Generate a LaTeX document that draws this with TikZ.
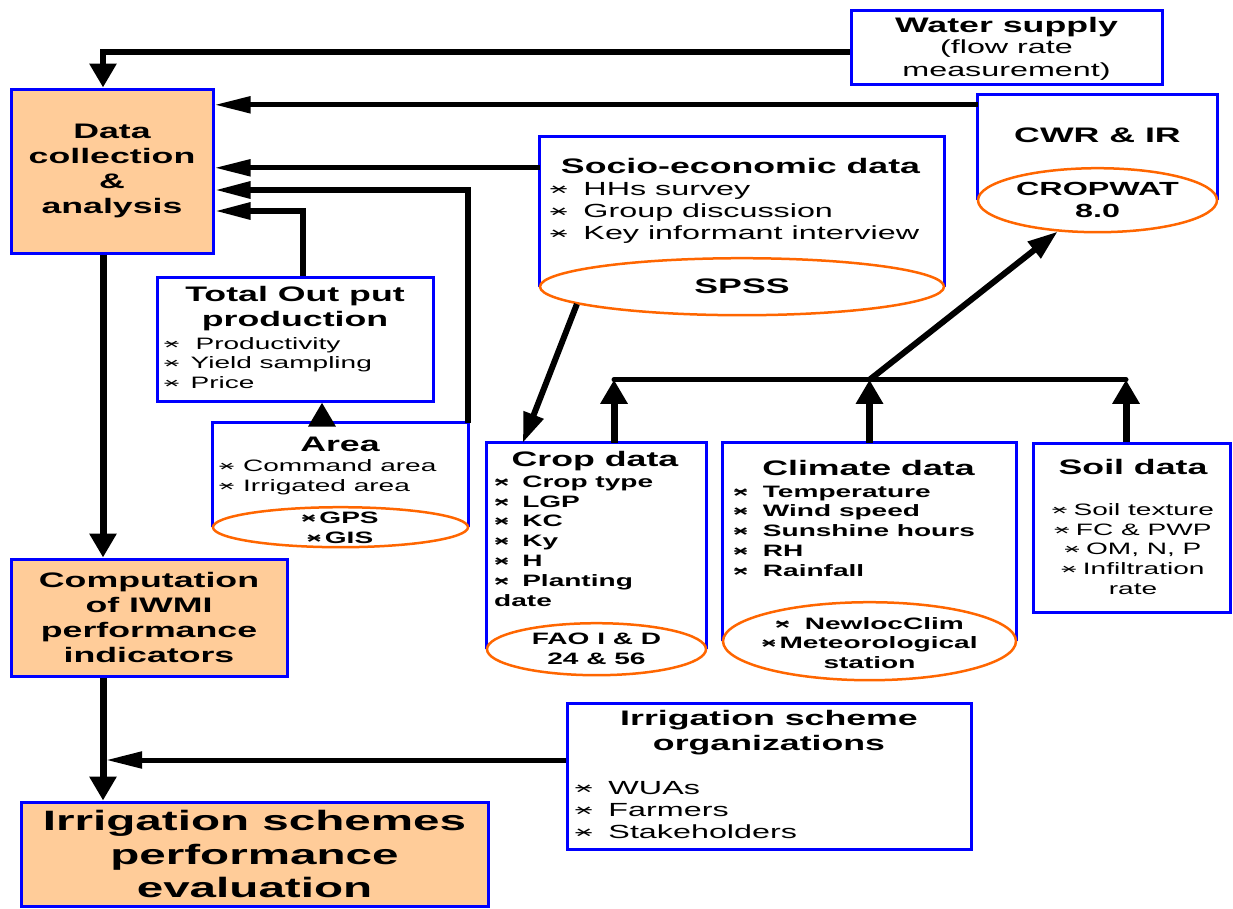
\documentclass[tikz,border=0pt]{standalone}
\usepackage{fontspec}
\setmainfont{Liberation Sans}[FakeStretch=1.7]
\usepackage{graphicx}
\usetikzlibrary{arrows.meta, shapes.geometric, calc}
\definecolor{irblue}{HTML}{0000FF}
\definecolor{irorange}{HTML}{FF6600}
\definecolor{irpeach}{HTML}{FFCC99}
\newcommand\ftbig{\fontsize{28}{33.5}\selectfont\bfseries}
\newcommand\fttitle{\fontsize{21}{25}\selectfont\bfseries}
\newcommand\ftmid{\fontsize{19}{22.3}\selectfont}
\newcommand\ftitem{\fontsize{16.5}{19.8}\selectfont}
\newcommand\xb[1][1.6em]{\makebox[#1][l]{\scalebox{0.9}{\rlap{\makebox[1em]{×}}\makebox[1em]{\raisebox{0.09em}{–}}}}}

\begin{document}
\begin{tikzpicture}[
  x=1pt, y=-1pt,
  pbox/.style={rectangle, draw=irblue, line width=3pt, fill=irpeach, inner sep=0pt, align=center},
  wbox/.style={rectangle, draw=irblue, line width=3pt, fill=white, inner sep=0pt},
  obox/.style={rectangle, inner sep=0pt},
  side/.style={draw=irblue, line width=3pt},
  tool/.style={ellipse, draw=irorange, line width=2.5pt, fill=white, inner sep=0pt},
  ttl/.style={inner sep=0pt, align=center, font=\fttitle},
  itm/.style={inner sep=0pt, align=left, anchor=west, font=\ftitem},
  sw/.style={inner sep=0pt, align=center, font=\ftitem\bfseries},
  harr/.style={line width=5pt, -{Triangle[length=36pt, width=16pt]}},
  varr/.style={line width=7pt, -{Triangle[length=24pt, width=26pt]}},
  darr/.style={line width=6pt, -{Triangle[length=30pt, width=20pt]}},
  link/.style={line width=5pt, line cap=round},
]
\useasboundingbox (0,0) rectangle (1233,908);

% Main steps
\node[pbox, minimum width=202pt, minimum height=164pt, font=\fttitle] (data) at (112,171) {Data\\collection\\\&\\analysis};
\node[pbox, minimum width=276pt, minimum height=117pt, font=\fttitle] (comp) at (149,617.5) {Computation\\of IWMI\\performance\\indicators};
\node[pbox, minimum width=467pt, minimum height=104pt, font=\ftbig] (eval) at (254.5,854) {Irrigation schemes\\performance\\evaluation};

% Data sources
\node[wbox, minimum width=311pt, minimum height=74pt] (water) at (1006.5,47) {};
\node[obox, minimum width=239pt, minimum height=105pt] (cwr) at (1097.5,147.5) {};
\node[obox, minimum width=404pt, minimum height=149.5pt] (socio) at (742,211.75) {};
\node[wbox, minimum width=276pt, minimum height=124pt] (total) at (295,339) {};
\node[obox, minimum width=255pt, minimum height=104pt] (area) at (340.5,475) {};
\node[obox, minimum width=219pt, minimum height=206pt] (crop) at (596.5,546) {};
\node[obox, minimum width=293pt, minimum height=198pt] (climate) at (869.5,542) {};
\node[wbox, minimum width=197pt, minimum height=169pt] (soil) at (1131.5,527.5) {};
\node[wbox, minimum width=404pt, minimum height=146pt] (org) at (769,776) {};

% Open boxes (tool ellipse closes the bottom)
\foreach \b in {cwr, socio, area, crop, climate}
  \draw[side] (\b.south west) -- (\b.north west) -- (\b.north east) -- (\b.south east);

% Tools
\node[tool, minimum width=239pt, minimum height=64pt] (cwrtool) at (cwr.south) {};
\node[tool, minimum width=404pt, minimum height=57pt] (spsstool) at (socio.south) {};
\node[tool, minimum width=255pt, minimum height=40pt] (areatool) at (area.south) {};
\node[tool, minimum width=219pt, minimum height=52pt] (croptool) at (crop.south) {};
\node[tool, minimum width=293pt, minimum height=78pt] (climtool) at (climate.south) {};

% Texts
\node[ttl] (waterttl) at (1006.5,27) {Water supply};
\node[inner sep=0pt, align=center, font=\ftmid] (watersub) at (1006.5,60) {(flow rate\\measurement)};

\node[ttl] (cwrttl) at (1097.5,135) {CWR \& IR};
\node[inner sep=0pt, align=center, font=\ftmid\bfseries] (cwrsw) at (cwrtool) {CROPWAT\\8.0};

\node[ttl] (sociottl) at (740.5,166) {Socio-economic data};
\node[itm, font=\ftmid] (socioitm) at (550,213) {\xb[1.75em]HHs survey\\\xb[1.75em]Group discussion\\\xb[1.75em]Key informant interview};
\node[ttl] (spssttl) at (spsstool) {SPSS};

\node[ttl] (totalttl) at (295,309) {Total Out put\\production};
\node[itm] (totalitm) at (164,363) {\xb[1.9em]Productivity\\\xb Yield sampling\\\xb Price};

\node[ttl] (areattl) at (340,444) {Area};
\node[itm] (areaitm) at (219,477) {\xb[1.45em]Command area\\\xb[1.45em]Irrigated area};
\node[sw] (areasw) at (340,528) {\xb[1.1em]GPS\\\xb[1.1em]GIS};

\node[ttl] (cropttl) at (595,461) {Crop data};
\node[itm, font=\ftitem\bfseries] (cropitm) at (494,541) {\xb[1.7em]Crop type\\\xb[1.7em]LGP\\\xb[1.7em]KC\\\xb[1.7em]Ky\\\xb[1.7em]H\\\xb[1.7em]Planting\\date};
\node[sw] (cropsw) at (596.5,649) {FAO I \& D\\24 \& 56};

\node[ttl] (climttl) at (868.5,468) {Climate data};
\node[itm, font=\ftitem\bfseries] (climitm) at (733,531) {\xb[1.8em]Temperature\\\xb[1.8em]Wind speed\\\xb[1.8em]Sunshine hours\\\xb[1.8em]RH\\\xb[1.8em]Rainfall};
\node[sw] (climsw) at (869.5,643) {\xb[1.8em]NewlocClim\\\xb[1.1em]Meteorological\\station};

\node[ttl] (soilttl) at (1133,467) {Soil data};
\node[inner sep=0pt, align=center, font=\ftitem] (soilitm) at (1133,549) {\xb[1.3em]Soil texture\\\xb[1.3em]FC \& PWP\\\xb[1.3em]OM, N, P\\\xb[1.3em]Infiltration\\rate};

\node[ttl] (orgttl) at (769,733) {Irrigation scheme\\organizations};
\node[itm, font=\ftmid] (orgitm) at (575,810) {\xb[1.75em]WUAs\\\xb[1.75em]Farmers\\\xb[1.75em]Stakeholders};

% Inputs to data collection
\coordinate (cwrin) at ([yshift=-10pt]cwr.north west);
\coordinate (socin) at ([yshift=-31pt]socio.north west);
\coordinate (areain) at ([yshift=-19pt]data.east);
\coordinate (totin) at ([yshift=-40pt]data.east);
\coordinate (areaup) at ([xshift=-18.5pt]area.north);
\draw[varr, line width=6pt] ([yshift=-5pt]water.west) -| ([xshift=-9pt]data.north);
\draw[harr] (cwrin) -- (cwrin -| data.east);
\draw[harr] (socin) -- (socin -| data.east);
\draw[harr, line width=6pt] (area.north east) |- (areain);
\draw[harr, line width=6pt] ([xshift=8pt]total.north) |- (totin);
\draw[varr] (areaup) -- (areaup |- total.south);

% Main flow
\coordinate (dout) at ([xshift=-9pt]data.south);
\coordinate (cout) at (dout |- comp.south);
\coordinate (orgout) at ([yshift=16pt]org.west);
\coordinate (orgin) at (orgout -| cout);
\draw[varr] (dout) -- (dout |- comp.north);
\draw[varr] (cout) -- (cout |- eval.north);
\draw[harr, shorten >=3pt] (orgout) -- (orgin);

% Crop, climate, soil to CROPWAT
\coordinate (cropup) at ([xshift=17.5pt]crop.north);
\coordinate (soilup) at ([xshift=-5.5pt]soil.north);
\coordinate (barL) at ([yshift=63pt]cropup);
\coordinate (barM) at (barL -| climate.north);
\coordinate (barR) at (barL -| soilup);
\draw[link] (barL) -- (barR);
\draw[varr] (cropup) -- (barL);
\draw[varr] (climate.north) -- (barM);
\draw[varr] (soilup) -- (barR);
\draw[darr] (barM) -- (cwrtool);
\draw[darr] (spsstool.186) -- ([xshift=36pt]crop.north west);

\end{tikzpicture}
\end{document}
